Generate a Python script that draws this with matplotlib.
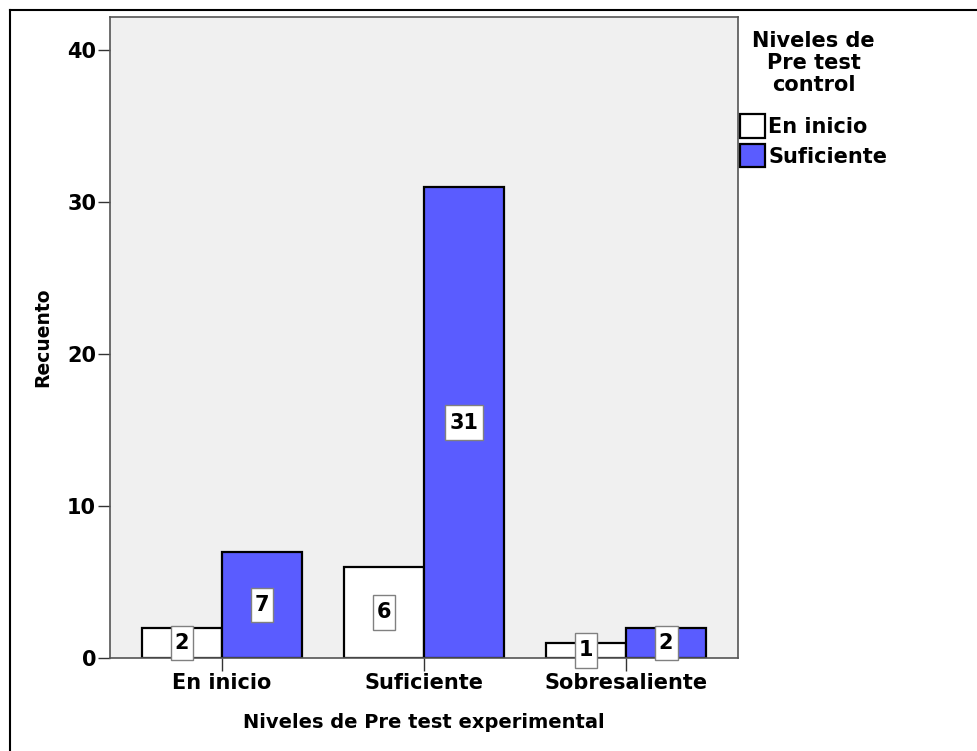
import matplotlib.pyplot as plt
from matplotlib.lines import Line2D
from matplotlib.path import Path

plt.rcParams['font.family'] = ['DejaVu Sans']
plt.rcParams['font.weight'] = 'bold'

# Recuento por nivel de pre test experimental (x) y pre test control (serie)
categorias = ['En inicio', 'Suficiente', 'Sobresaliente']
series = ['En inicio', 'Suficiente']
recuento_en_inicio = [2, 6, 1]
recuento_suficiente = [7, 31, 2]
colores = ['#ffffff', '#5a5cff']


def caja_etiqueta(x0, y0, width, height, mutation_size):
    # rectangulo con mas relleno vertical que horizontal
    px = 0.2 * mutation_size
    py = 0.34 * mutation_size
    x0, y0 = x0 - px, y0 - py
    x1, y1 = x0 + width + 2 * px, y0 + height + 2 * py
    return Path([(x0, y0), (x1, y0), (x1, y1), (x0, y1), (x0, y0)], closed=True)


fig = plt.figure(figsize=(9.77, 7.51), dpi=100)
ax = fig.add_axes([0.1126, 0.1238, 0.6428, 0.8536])
ax.set_facecolor('#f0f0f0')

ancho = 0.396
x = list(range(len(categorias)))
for k, (valores, nombre) in enumerate(zip([recuento_en_inicio, recuento_suficiente], series)):
    desplaz = (k - 0.5) * ancho
    barras = ax.bar([i + desplaz for i in x], valores, width=ancho,
                    color=colores[k], edgecolor='black', linewidth=1.6,
                    label=nombre, zorder=2)
    for b, v in zip(barras, valores):
        ax.text(b.get_x() + b.get_width() / 2, v / 2, str(v),
                ha='center', va='center', fontsize=15, zorder=4, clip_on=False,
                bbox=dict(boxstyle=caja_etiqueta, facecolor='white',
                          edgecolor='#808080', linewidth=1.0))

ax.set_xlim(-0.554, 2.554)
ax.set_ylim(0, 42.2)
ax.set_yticks([0, 10, 20, 30, 40])
ax.set_xticks(x)
ax.set_xticklabels(categorias)
ax.tick_params(axis='y', length=9, width=1, labelsize=15, pad=1, color='#333333')
ax.tick_params(axis='x', length=9, width=1, labelsize=15, pad=2, color='#333333')
for s in ax.spines.values():
    s.set_color('#555555')
    s.set_linewidth(1.2)

ax.set_xlabel('Niveles de Pre test experimental', fontsize=14, fontweight='bold', labelpad=14)
ax.set_ylabel('Recuento', fontsize=13.5, fontweight='bold', labelpad=11)

leg = fig.legend(title='Niveles de\nPre test\ncontrol', loc='upper left',
                 bbox_to_anchor=(740 / 977, 1 - 31 / 751), frameon=False,
                 fontsize=15, title_fontsize=15, handlelength=1.2,
                 handleheight=1.35, handletextpad=0.15, borderpad=0.0,
                 borderaxespad=0.0, labelspacing=0.3)
leg.get_title().set_multialignment('center')
leg.get_title().set_linespacing(1.12)
leg._legend_box.sep = 14
for h in leg.legend_handles:
    h.set_linewidth(1.6)

# marco exterior (solo bordes superior e izquierdo visibles)
fig.add_artist(Line2D([10 / 977, 1.0], [1 - 10 / 751, 1 - 10 / 751],
                      transform=fig.transFigure, color='black', linewidth=1.5))
fig.add_artist(Line2D([10 / 977, 10 / 977], [0.0, 1 - 10 / 751],
                      transform=fig.transFigure, color='black', linewidth=1.5))

fig.savefig('out.png', dpi=100)
